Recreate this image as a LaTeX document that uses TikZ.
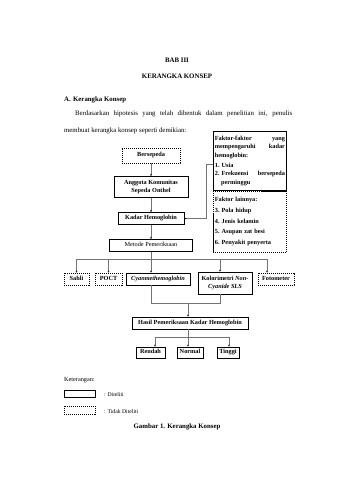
\documentclass[tikz,border=0pt]{standalone}
\usepackage{fontspec}
\setmainfont{Liberation Serif}
\usetikzlibrary{arrows.meta}
\def\pxs{*1.7552pt}
\begin{document}
\begin{tikzpicture}[x=1.7552pt,y=-1.7552pt,
  box/.style={draw=black, line width=0.6pt, inner sep=1pt, align=center,
    font=\fontsize{11}{13}\selectfont\bfseries},
  dbox/.style={box, dash pattern=on 2pt off 1.5pt},
  sl/.style={text height=7.5pt, text depth=2.5pt},
  conn/.style={draw=black!55, line width=0.6pt},
  arr/.style={conn, -{Latex[length=3.5pt,width=3pt,black]}},
  body/.style={inner sep=0pt, font=\fontsize{12}{14}\selectfont},
  hd/.style={body, font=\fontsize{12}{14}\selectfont\bfseries}
]
\fill[white] (0,0) rectangle (339,480);
\useasboundingbox (0,0) rectangle (339,480);

% headings and paragraph
\node[hd] (bab) at (177,60) {BAB III};
\node[hd] (judul) at (177,76) {KERANGKA KONSEP};
\node[hd, anchor=west] (sub) at (64,100) {\makebox[15.8pt][l]{A.}Kerangka Konsep};
\node[body, anchor=west] (p1) at (75,114) {\makebox[381pt][s]{Berdasarkan hipotesis yang telah dibentuk dalam penelitian ini, penulis}};
\node[body, anchor=west] (p2) at (64,131) {membuat kerangka konsep seperti demikian:};

% main column
\node[dbox, sl, minimum width=58\pxs, minimum height=15\pxs] (bers) at (151,155.5) {Bersepeda};
\node[box, minimum width=74\pxs, minimum height=21\pxs] (angg) at (151,187) {Anggota Komunitas\\Sepeda Onthel};
\node[box, sl, minimum width=66\pxs, minimum height=12\pxs] (kadar) at (151,218.5) {Kadar Hemoglobin};
\node[box, sl, minimum width=83\pxs, minimum height=12\pxs, font=\fontsize{11}{13}\selectfont] (metode) at (151,245.5) {Metode Pemeriksaan};

% factor boxes
\node[box, anchor=north west, inner sep=3pt, text width=123pt, align=left,
  minimum height=59\pxs, font=\fontsize{11}{15}\selectfont\bfseries] (faktor) at (213,131)
  {\makebox[123pt][l]{Faktor-faktor\hfill yang}\\
   \makebox[123pt][l]{mempengaruhi\hfill kadar}\\
   hemoglobin:\\[2pt]
   1.~Usia\\
   \makebox[123pt][l]{2.~Frekuensi\hfill bersepeda}\\
   \hspace*{11pt}perminggu};
\node[dbox, anchor=north west, inner sep=3pt, text width=123pt, align=left,
  minimum height=61\pxs, font=\fontsize{11}{19}\selectfont\bfseries] (lain) at (213,191)
  {Faktor lainnya:\\
   3.~Pola hidup\\
   4.~Jenis kelamin\\
   5.~Asupan zat besi\\
   6.~Penyakit penyerta};

% methods row
\node[dbox, sl, minimum width=25\pxs, minimum height=12\pxs] (sahli) at (76.5,279) {Sahli};
\node[dbox, sl, minimum width=27\pxs, minimum height=12\pxs] (poct) at (108.5,279) {POCT};
\node[box, sl, minimum width=64\pxs, minimum height=12\pxs, font=\fontsize{11}{13}\selectfont\bfseries\itshape] (cyan) at (158,279) {Cyanmethemoglobin};
\node[box, minimum width=54\pxs, minimum height=22\pxs] (kolor) at (225,283) {Kolorimetri \textit{Non-}\\\textit{Cyanide SLS}};
\node[dbox, sl, minimum width=36\pxs, minimum height=12\pxs] (foto) at (276,279) {Fotometer};

% results
\node[box, sl, minimum width=116\pxs, minimum height=12\pxs] (hasil) at (190,323) {Hasil Pemeriksaan Kadar Hemoglobin};
\node[box, sl, minimum width=29\pxs, minimum height=11\pxs] (rendah) at (150.5,352.5) {Rendah};
\node[box, sl, minimum width=26\pxs, minimum height=11\pxs] (normal) at (190,352.5) {Normal};
\node[box, sl, minimum width=22\pxs, minimum height=11\pxs] (tinggi) at (228,352.5) {Tinggi};

% legend
\node[body, anchor=west, font=\fontsize{11}{13}\selectfont] (ket) at (64,380) {Keterangan:};
\node[box, minimum width=31\pxs, minimum height=7.5\pxs] (leg1) at (79.5,393.5) {};
\node[body, anchor=west, font=\fontsize{10}{12}\selectfont] (legt1) at (104,394.5) {: Diteliti};
\node[dbox, minimum width=31\pxs, minimum height=8\pxs] (leg2) at (79.5,410) {};
\node[body, anchor=west, font=\fontsize{10}{12}\selectfont] (legt2) at (104,411.5) {: Tidak Diteliti};
\node[hd] (gambar) at (177,427) {Gambar 1. Kerangka Konsep};

% connectors main column
\draw[arr] (bers) -- (angg);
\draw[arr] (angg) -- (kadar);
\draw[arr] (kadar) -- (metode);
\draw[arr] ([yshift=-6pt]faktor.west) -- ++(-7,0) |- (kadar.east);

% distribution to methods
\coordinate (hl) at (0,259);
\coordinate (kx) at (220,259);
\coordinate (fx) at (267,259);
\draw[conn] (metode.south) -- (metode.south |- hl);
\draw[conn] (sahli.north |- hl) -- (fx);
\draw[arr] (sahli.north |- hl) -- (sahli.north);
\draw[arr] (poct.north |- hl) -- (poct.north);
\draw[arr] (metode.south |- hl) -- (metode.south |- cyan.north);
\draw[arr] (kx) -- (kx |- kolor.north);
\draw[arr] (fx) -- (fx |- foto.north);

% join to results
\coordinate (c1) at (151,303);
\coordinate (c2) at (220,303);
\coordinate (c3) at (188,303);
\draw[conn] (c1 |- cyan.south) -- (c1) -- (c2) -- (c2 |- kolor.south);
\draw[arr] (c3) -- (c3 |- hasil.north);

\coordinate (r1) at (155,337);
\coordinate (r2) at (188,337);
\coordinate (r3) at (229,337);
\draw[conn] (r2 |- hasil.south) -- (r2);
\draw[conn] (r1) -- (r3);
\draw[arr] (r1) -- (r1 |- rendah.north);
\draw[arr] (r2) -- (r2 |- normal.north);
\draw[arr] (r3) -- (r3 |- tinggi.north);
\end{tikzpicture}
\end{document}
